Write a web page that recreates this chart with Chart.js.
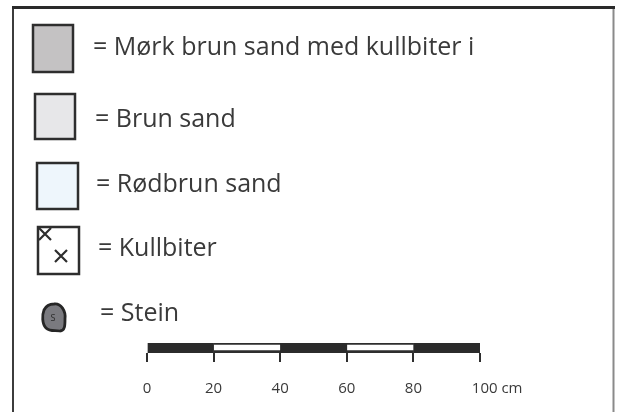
<!DOCTYPE html>
<html>
<head>
<meta charset="utf-8">
<script src="https://cdn.jsdelivr.net/npm/chart.js@4"></script>
<style>
  html, body { margin: 0; padding: 0; background: #fff; }
  #wrap { width: 617px; height: 412px; position: relative; }
</style>
</head>
<body>
<div id="wrap"><canvas id="chart" width="617" height="412"></canvas></div>
<script>
// tegnforklaring
const legendLabels = ['= Mørk brun sand med kullbiter i', '= Brun sand', '= Rødbrun sand', '= Kullbiter', '= Stein'];
const legendFills = ['#c4c2c3', '#e7e7e9', '#eef6fc', '#ffffff', '#7a7a7f'];

// målestokk (cm)
const scaleSegments = [20, 20, 20, 20, 20];
const segmentColors = ['#2b2b2b', '#ffffff', '#2b2b2b', '#ffffff', '#2b2b2b'];
const scaleTicks = [0, 20, 40, 60, 80, 100];
const scaleUnit = 'cm';

const ink = '#2e2e2e';
const textColor = '#3a3a3a';

// ramme + tegnforklaring tegnes som plugin
const legendPlugin = {
    id: 'legendSheet',
    beforeDraw(chart) {
        const ctx = chart.ctx;
        ctx.save();
        ctx.fillStyle = '#fff';
        ctx.fillRect(0, 0, chart.width, chart.height);
        // ramme
        ctx.strokeStyle = '#8a8a8a';
        ctx.lineWidth = 2;
        ctx.beginPath(); ctx.moveTo(613.5, 8); ctx.lineTo(613.5, 412); ctx.stroke();
        ctx.strokeStyle = '#3c3c3c';
        ctx.beginPath(); ctx.moveTo(13, 8); ctx.lineTo(13, 412); ctx.stroke();
        ctx.strokeStyle = '#2a2a2a';
        ctx.lineWidth = 3;
        ctx.beginPath(); ctx.moveTo(12, 7.5); ctx.lineTo(615, 7.5); ctx.stroke();
        ctx.restore();
    },
    afterDraw(chart) {
        const ctx = chart.ctx;
        const boxes = [
            { x: 33, y: 25, w: 40, h: 47 },
            { x: 35, y: 94, w: 40, h: 45 },
            { x: 37, y: 163, w: 41, h: 46 },
            { x: 38, y: 227, w: 41, h: 47 }
        ];
        const textX = [93, 95, 96, 98, 100];
        const baselines = [55, 127, 192, 256, 321];

        ctx.save();
        ctx.lineJoin = 'miter';
        boxes.forEach((b, i) => {
            ctx.fillStyle = legendFills[i];
            ctx.fillRect(b.x, b.y, b.w, b.h);
            ctx.strokeStyle = ink;
            ctx.lineWidth = 2.5;
            ctx.strokeRect(b.x, b.y, b.w, b.h);
        });

        // kullbiter-kryss
        const cross = (cx, cy, s) => {
            ctx.beginPath();
            ctx.moveTo(cx - s, cy - s); ctx.lineTo(cx + s, cy + s);
            ctx.moveTo(cx + s, cy - s); ctx.lineTo(cx - s, cy + s);
            ctx.stroke();
        };
        ctx.lineWidth = 2.2;
        ctx.strokeStyle = '#2e2e2e';
        cross(45, 234, 6);
        cross(61, 256, 6);

        // stein
        ctx.beginPath();
        ctx.moveTo(54, 304);
        ctx.bezierCurveTo(61, 303, 66, 311, 65, 319);
        ctx.bezierCurveTo(65, 325, 65, 331, 60, 331);
        ctx.bezierCurveTo(55, 330, 50, 332, 46, 328);
        ctx.bezierCurveTo(42, 324, 42, 315, 44, 310);
        ctx.bezierCurveTo(46, 306, 50, 304, 54, 304);
        ctx.closePath();
        ctx.fillStyle = legendFills[4];
        ctx.fill();
        ctx.lineWidth = 2.8;
        ctx.strokeStyle = '#262626';
        ctx.stroke();
        ctx.fillStyle = '#2a2a2a';
        ctx.font = '9px "Open Sans"';
        ctx.textAlign = 'center';
        ctx.textBaseline = 'middle';
        ctx.fillText('S', 53, 318);

        // tekst
        ctx.fillStyle = textColor;
        ctx.font = '25px "Open Sans"';
        ctx.textAlign = 'left';
        ctx.textBaseline = 'alphabetic';
        legendLabels.forEach((t, i) => {
            ctx.fillText(t, textX[i], baselines[i]);
        });
        ctx.restore();
    }
};

const datasets = scaleSegments.map((v, i) => ({
    label: 'seg' + i,
    data: [v],
    backgroundColor: segmentColors[i],
    borderColor: ink,
    borderWidth: segmentColors[i] === '#ffffff' ? { top: 2, bottom: 3, left: 0, right: 0 } : 0,
    borderSkipped: false,
    barPercentage: 1,
    categoryPercentage: 1
}));

new Chart(document.getElementById('chart'), {
    type: 'bar',
    data: { labels: ['målestokk'], datasets },
    options: {
        responsive: false,
        animation: false,
        indexAxis: 'y',
        layout: { padding: { left: 147, right: 137, top: 343, bottom: 13 } },
        plugins: { legend: { display: false }, tooltip: { enabled: false } },
        scales: {
            y: { display: false, stacked: true },
            x: {
                type: 'linear',
                stacked: true,
                min: 0,
                max: 100,
                afterBuildTicks: (axis) => { axis.ticks = scaleTicks.map(v => ({ value: v })); },
                afterFit: (axis) => { axis.height = 46; },
                border: { display: false },
                grid: {
                    drawOnChartArea: false,
                    drawTicks: true,
                    tickLength: 9,
                    color: ink,
                    lineWidth: 2
                },
                ticks: {
                    autoSkip: false,
                    color: textColor,
                    font: { family: 'Open Sans', size: 15 },
                    padding: 18,
                    maxRotation: 0,
                    callback: (v) => v === 100 ? '\u2007\u2007\u2007\u2007' + v + ' ' + scaleUnit : String(v)
                }
            }
        }
    },
    plugins: [legendPlugin]
});
</script>
</body>
</html>
